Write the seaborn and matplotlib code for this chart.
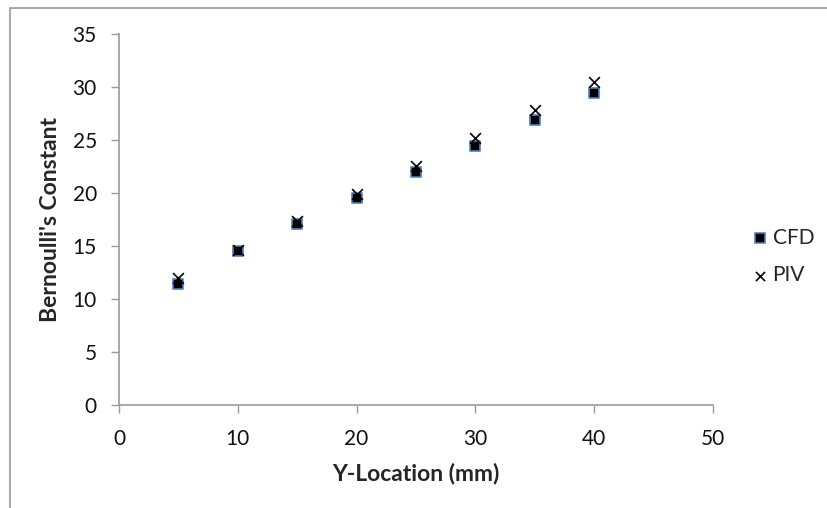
"""Bernoulli's constant along Y: CFD vs PIV."""

import matplotlib

matplotlib.use("Agg")

import matplotlib.pyplot as plt
import pandas as pd
import seaborn as sns
from matplotlib.patches import Rectangle

y_location = [5, 10, 15, 20, 25, 30, 35, 40]
cfd_values = [11.4, 14.5, 17.1, 19.5, 21.95, 24.45, 26.9, 29.4]
piv_values = [12.0, 14.6, 17.35, 19.95, 22.55, 25.2, 27.8, 30.5]
x_ticks = [0, 10, 20, 30, 40, 50]
y_ticks = [0, 5, 10, 15, 20, 25, 30, 35]

sns.set_theme(style="white")
plt.rcParams["font.family"] = ["Lato", "DejaVu Sans"]

cfd = pd.DataFrame({"y_location": y_location, "value": cfd_values})
piv = pd.DataFrame({"y_location": y_location, "value": piv_values})

fig = plt.figure(figsize=(8.27, 5.08), dpi=100)
ax = fig.add_axes([0.1439, 0.2028, 0.7183, 0.7303])

# outer chart frame (top + left visible, like the Excel export)
fig.patches.append(Rectangle((0.012, -0.1), 1.2, 1.084, transform=fig.transFigure,
                             fill=False, edgecolor="#9A9A9A", linewidth=1.2))

sns.scatterplot(data=cfd, x="y_location", y="value", ax=ax, marker="s", s=62,
                color="black", edgecolor="#4F81BD", linewidth=1.2, label="CFD", zorder=3)
sns.scatterplot(data=piv, x="y_location", y="value", ax=ax, marker="x", s=60,
                color="black", linewidth=1.2, label="PIV", zorder=4)

ax.set_xlim(0, 50)
ax.set_ylim(0, 35)
ax.set_xticks(x_ticks)
ax.set_yticks(y_ticks)
ax.tick_params(axis="both", labelsize=15, colors="#111111", length=6, width=1,
               direction="out", bottom=True, left=True)
ax.tick_params(axis="x", pad=11)
ax.tick_params(axis="y", pad=10)
ax.tick_params(axis="both", color="#9A9A9A")
for side in ["top", "right"]:
    ax.spines[side].set_visible(False)
for side in ["left", "bottom"]:
    ax.spines[side].set_color("#9A9A9A")
    ax.spines[side].set_linewidth(1.2)

ax.set_xlabel("Y-Location (mm)", fontsize=16.5, fontweight="bold", labelpad=10)
ax.set_ylabel("Bernoulli's Constant", fontsize=16.5, fontweight="bold", labelpad=8)

ax.legend(loc="center left", bbox_to_anchor=(1.03, 0.40), frameon=False, fontsize=15,
          handletextpad=0.1, labelspacing=0.85, handlelength=1.0, markerscale=0.85)

fig.savefig("out.png", dpi=100)
